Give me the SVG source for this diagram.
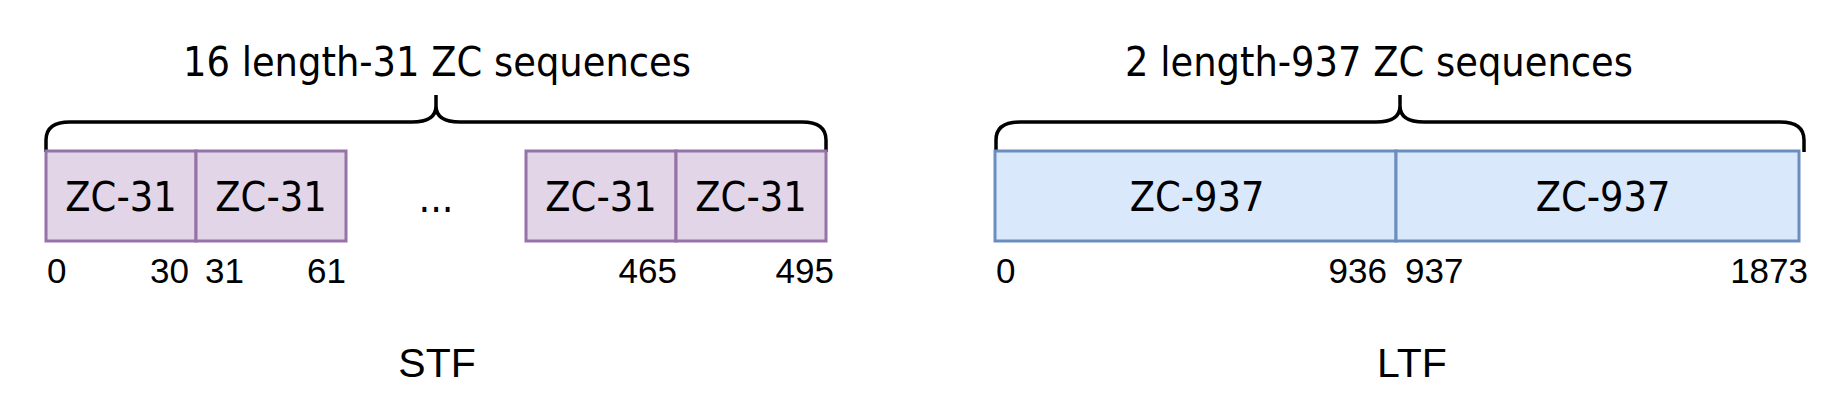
<svg xmlns="http://www.w3.org/2000/svg" width="1845" height="420" viewBox="0 0 1845 420">
<style>
.bg{fill:#ffffff}
.stf{fill:#e1d5e7;stroke:#9673a6;stroke-width:3}
.ltf{fill:#dae8fc;stroke:#6c8ebf;stroke-width:3}
.brace{fill:none;stroke:#000000;stroke-width:3.5;stroke-linejoin:round}
.t{font-family:"DejaVu Sans Condensed","DejaVu Sans",sans-serif;font-stretch:condensed;font-size:41px;fill:#000000;text-anchor:middle}
.n{font-family:"Liberation Sans",Arial,sans-serif;font-size:35px;fill:#000000}
.lab{font-family:"Liberation Sans",Arial,sans-serif;font-size:41px;fill:#000000;text-anchor:middle}
</style>
<rect class="bg" x="0" y="0" width="1845" height="420"/>
<g id="connectors">
<path id="brace-stf" class="brace" d="M46,152 L46,140 Q46,122 70,122 L412,122 Q436,122 436,106 L436,95 M436,106 Q436,122 460,122 L802,122 Q826,122 826,140 L826,152"/>
<path id="brace-ltf" class="brace" d="M996,152 L996,140 Q996,122 1020,122 L1376,122 Q1400,122 1400,106 L1400,95 M1400,106 Q1400,122 1424,122 L1780,122 Q1804,122 1804,140 L1804,152"/>
</g>
<g id="title-stf"><text class="t" x="437" y="76">16 length-31 ZC sequences</text></g>
<g id="title-ltf"><text class="t" x="1379" y="76">2 length-937 ZC sequences</text></g>
<g id="stf-1"><rect class="stf" x="46" y="151" width="150" height="90"/><text class="t" x="121" y="211">ZC-31</text></g>
<g id="stf-2"><rect class="stf" x="196" y="151" width="150" height="90"/><text class="t" x="271" y="211">ZC-31</text></g>
<g id="ellipsis"><text class="t" x="436" y="212">...</text></g>
<g id="stf-15"><rect class="stf" x="526" y="151" width="150" height="90"/><text class="t" x="601" y="211">ZC-31</text></g>
<g id="stf-16"><rect class="stf" x="676" y="151" width="150" height="90"/><text class="t" x="751" y="211">ZC-31</text></g>
<g id="ltf-1"><rect class="ltf" x="995" y="151" width="401" height="90"/><text class="t" x="1197" y="211">ZC-937</text></g>
<g id="ltf-2"><rect class="ltf" x="1396" y="151" width="403" height="90"/><text class="t" x="1603" y="211">ZC-937</text></g>
<g id="stf-indices">
<text class="n" x="47" y="283">0</text>
<text class="n" x="189" y="283" text-anchor="end">30</text>
<text class="n" x="205" y="283">31</text>
<text class="n" x="346" y="283" text-anchor="end">61</text>
<text class="n" x="677" y="283" text-anchor="end">465</text>
<text class="n" x="834" y="283" text-anchor="end">495</text>
</g>
<g id="ltf-indices">
<text class="n" x="996" y="283">0</text>
<text class="n" x="1387" y="283" text-anchor="end">936</text>
<text class="n" x="1405" y="283">937</text>
<text class="n" x="1808" y="283" text-anchor="end">1873</text>
</g>
<g id="label-stf"><text class="lab" x="437" y="377">STF</text></g>
<g id="label-ltf"><text class="lab" x="1412" y="377">LTF</text></g>
</svg>
